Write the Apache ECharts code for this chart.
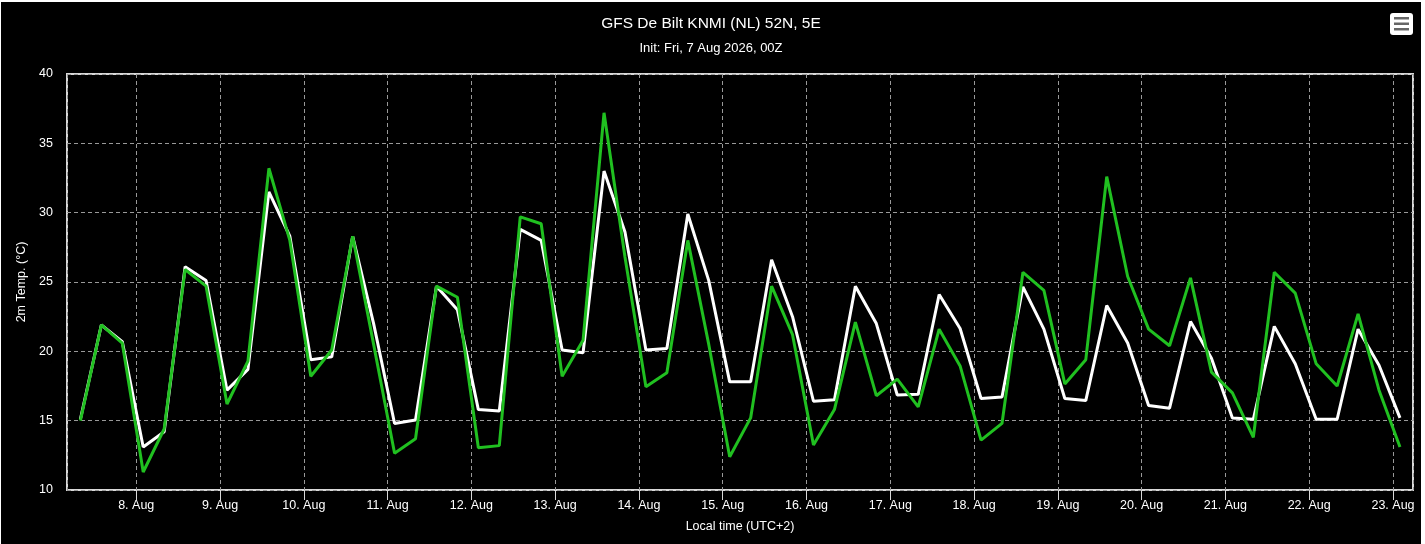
<!DOCTYPE html>
<html>
<head>
<meta charset="utf-8">
<script src="https://cdn.jsdelivr.net/npm/echarts@6/dist/echarts.min.js"></script>
<style>
  html, body { margin: 0; padding: 0; background: #fff; }
  #chart { position: absolute; left: 1px; top: 2px; width: 1420px; height: 542px; background: #000; }
</style>
</head>
<body>
<div id="chart"></div>
<script>
// 6-hourly GFS run, times in local time (UTC+2), first value 7 Aug 08:00
const START = Date.UTC(2026, 7, 7, 8);
const STEP = 6 * 3600 * 1000;
const X_MIN = Date.UTC(2026, 7, 7, 4, 10);
const X_MAX = Date.UTC(2026, 7, 23, 5, 44);

// white line
const tempWhite = [
  15.1, 21.9, 20.7, 13.1, 14.2, 26.1, 25.1, 17.2,
  18.7, 31.5, 28.3, 19.4, 19.6, 28.3, 22.0, 14.8,
  15.05, 24.7, 23.0, 15.8, 15.7, 28.8, 28.0, 20.1,
  19.9, 33.0, 28.6, 20.1, 20.2, 29.9, 25.1, 17.8,
  17.8, 26.6, 22.5, 16.4, 16.5, 24.7, 22.0, 16.85,
  16.9, 24.1, 21.65, 16.6, 16.7, 24.65, 21.6, 16.6,
  16.45, 23.3, 20.6, 16.1, 15.9, 22.15, 19.5, 15.2,
  15.1, 21.8, 19.1, 15.1, 15.1, 21.6, 19.0, 15.2
];
// green line
const tempGreen = [
  15.0, 21.9, 20.6, 11.3, 14.4, 25.9, 24.7, 16.2,
  19.3, 33.2, 28.0, 18.2, 20.1, 28.3, 20.5, 12.65,
  13.7, 24.7, 23.9, 13.05, 13.2, 29.7, 29.2, 18.2,
  20.8, 37.2, 26.8, 17.45, 18.45, 28.0, 20.5, 12.4,
  15.2, 24.7, 21.2, 13.25, 15.8, 22.1, 16.8, 18.0,
  16.0, 21.6, 18.95, 13.6, 14.8, 25.7, 24.4, 17.65,
  19.4, 32.6, 25.4, 21.6, 20.4, 25.3, 18.5, 17.0,
  13.8, 25.7, 24.2, 19.1, 17.5, 22.7, 17.2, 13.1
];

function toPairs(vals) {
  let out = [];
  for (let i = 0; i < vals.length; i++) {
    out.push([START + i * STEP, vals[i]]);
  }
  return out;
}

const font = 'Liberation Sans, Arial, sans-serif';
let chart = echarts.init(document.getElementById('chart'));

const option = {
  useUTC: true,
  animation: false,
  backgroundColor: '#000',
  title: {
    text: 'GFS De Bilt KNMI (NL) 52N, 5E',
    subtext: 'Init: Fri, 7 Aug 2026, 00Z',
    left: 'center',
    top: 9,
    itemGap: 10,
    textStyle: { color: '#fff', fontSize: 15.5, fontWeight: 'normal', fontFamily: font },
    subtextStyle: { color: '#fff', fontSize: 13, fontFamily: font }
  },
  grid: {
    left: 66,
    right: 8,
    top: 72,
    bottom: 54,
    show: true,
    borderColor: '#d8d8d8',
    borderWidth: 2
  },
  xAxis: {
    type: 'time',
    min: X_MIN,
    max: X_MAX,
    minInterval: 24 * 3600 * 1000,
    maxInterval: 24 * 3600 * 1000,
    splitNumber: 16,
    name: 'Local time (UTC+2)',
    nameLocation: 'middle',
    nameGap: 30,
    nameTextStyle: { color: '#fff', fontSize: 12.5, fontFamily: font },
    axisLine: { show: false },
    axisTick: { show: true, length: 10, lineStyle: { color: '#d8d8d8', width: 1 } },
    axisLabel: {
      color: '#fff',
      fontSize: 12.5,
      fontFamily: font,
      margin: 9,
      showMinLabel: false,
      showMaxLabel: false,
      formatter: function (v) {
        return new Date(v).getUTCDate() + '. Aug';
      }
    },
    splitLine: { show: true, lineStyle: { color: '#999', type: [4, 3], width: 1 } }
  },
  yAxis: {
    type: 'value',
    min: 10,
    max: 40,
    interval: 5,
    name: '2m Temp. (°C)',
    nameLocation: 'middle',
    nameGap: 37,
    nameTextStyle: { color: '#fff', fontSize: 12.5, fontFamily: font },
    axisLine: { show: false },
    axisTick: { show: false },
    axisLabel: { color: '#fff', fontSize: 12.5, fontFamily: font, margin: 14 },
    splitLine: { show: true, lineStyle: { color: '#999', type: [4, 3], width: 1 } }
  },
  series: [
    {
      name: 'white',
      type: 'line',
      data: toPairs(tempWhite),
      showSymbol: false,
      lineStyle: { color: '#fff', width: 3 },
      itemStyle: { color: '#fff' }
    },
    {
      name: 'green',
      type: 'line',
      data: toPairs(tempGreen),
      showSymbol: false,
      lineStyle: { color: '#20c020', width: 3 },
      itemStyle: { color: '#20c020' }
    }
  ],
  // menu button, top right
  graphic: [
    { type: 'rect', shape: { x: 1389, y: 11, width: 23, height: 22, r: 3 }, style: { fill: '#fff' } },
    { type: 'rect', shape: { x: 1393, y: 15, width: 15, height: 2.5 }, style: { fill: '#666' } },
    { type: 'rect', shape: { x: 1393, y: 20.5, width: 15, height: 2.5 }, style: { fill: '#666' } },
    { type: 'rect', shape: { x: 1393, y: 26, width: 15, height: 2.5 }, style: { fill: '#666' } }
  ]
};
chart.setOption(option);
</script>
</body>
</html>
